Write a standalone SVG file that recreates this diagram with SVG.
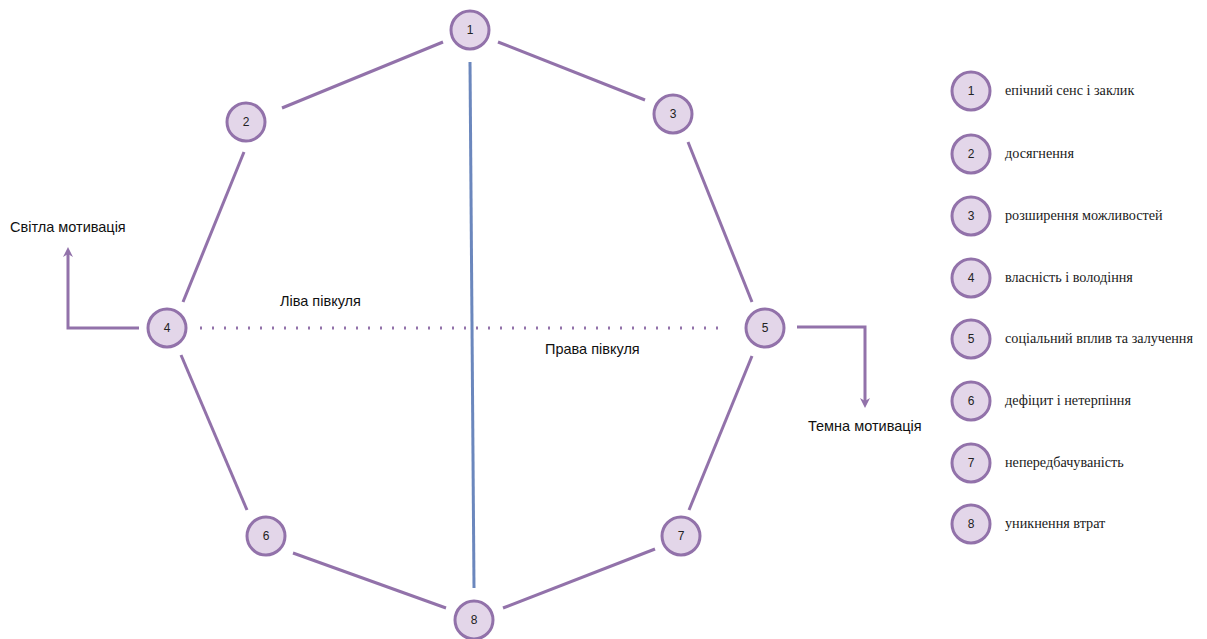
<svg xmlns="http://www.w3.org/2000/svg" width="1207" height="639" viewBox="0 0 1207 639">
<style>
.edge{stroke:#9272aa;stroke-width:3;fill:none;stroke-linecap:butt}
.node circle{fill:#e3d6e9;stroke:#9272aa;stroke-width:3}
.num{font-family:"Liberation Sans",Arial,sans-serif;font-size:12px;fill:#222;text-anchor:middle;dominant-baseline:central}
.lab{font-family:"Liberation Sans",Arial,sans-serif;font-size:14.5px;fill:#111}
.leg{font-family:"Liberation Serif","Times New Roman",serif;font-size:14.2px;fill:#1a1a1a}
</style>
<defs>
<marker id="ah" markerWidth="10" markerHeight="10" refX="5" refY="5" orient="auto" markerUnits="userSpaceOnUse">
<path d="M0,0 L10,5 L0,10 L3,5 Z" fill="#9272aa"/>
</marker>
</defs>
<rect width="1207" height="639" fill="#ffffff"/>
<g id="connectors">
<line class="edge" x1="443" y1="42" x2="282" y2="108"/>
<line class="edge" x1="498" y1="42" x2="645" y2="100"/>
<line class="edge" x1="244" y1="152" x2="183" y2="302"/>
<line class="edge" x1="688" y1="142" x2="752" y2="302"/>
<line class="edge" x1="181" y1="355" x2="247" y2="510"/>
<line class="edge" x1="752" y1="356" x2="689" y2="510"/>
<line class="edge" x1="293" y1="553" x2="446" y2="608"/>
<line class="edge" x1="655" y1="549" x2="503" y2="608"/>
<line x1="470" y1="62" x2="474" y2="588" stroke="#6b87bd" stroke-width="3"/>
<line x1="200" y1="328" x2="725" y2="328" stroke="#9272aa" stroke-width="3" stroke-dasharray="2,10"/>
<polyline class="edge" points="139,328 68,328 68,252" marker-end="url(#ah)"/>
<polyline class="edge" points="797,327 865,327 865,403" marker-end="url(#ah)"/>
</g>
<g id="n1" class="node"><circle cx="470" cy="30" r="19"/><text class="num" x="470" y="30">1</text></g>
<g id="n2" class="node"><circle cx="246" cy="122" r="19"/><text class="num" x="246" y="122">2</text></g>
<g id="n3" class="node"><circle cx="673" cy="114" r="19"/><text class="num" x="673" y="114">3</text></g>
<g id="n4" class="node"><circle cx="167" cy="328" r="19"/><text class="num" x="167" y="328">4</text></g>
<g id="n5" class="node"><circle cx="765" cy="328" r="19"/><text class="num" x="765" y="328">5</text></g>
<g id="n6" class="node"><circle cx="266" cy="536" r="19"/><text class="num" x="266" y="536">6</text></g>
<g id="n7" class="node"><circle cx="681" cy="536" r="19"/><text class="num" x="681" y="536">7</text></g>
<g id="n8" class="node"><circle cx="474" cy="620" r="19"/><text class="num" x="474" y="620">8</text></g>
<g id="labels">
<text class="lab" x="10" y="232">Світла мотивація</text>
<text class="lab" x="808" y="431">Темна мотивація</text>
<text class="lab" x="280" y="306">Ліва півкуля</text>
<text class="lab" x="545" y="354">Права півкуля</text>
</g>
<g id="legend">
<g id="l1" class="node"><circle cx="971" cy="91" r="19"/><text class="num" x="971" y="91">1</text><text class="leg" x="1005" y="95">епічний сенс і заклик</text></g>
<g id="l2" class="node"><circle cx="971" cy="154" r="19"/><text class="num" x="971" y="154">2</text><text class="leg" x="1005" y="158">досягнення</text></g>
<g id="l3" class="node"><circle cx="971" cy="216" r="19"/><text class="num" x="971" y="216">3</text><text class="leg" x="1005" y="220">розширення можливостей</text></g>
<g id="l4" class="node"><circle cx="971" cy="278" r="19"/><text class="num" x="971" y="278">4</text><text class="leg" x="1005" y="282">власність і володіння</text></g>
<g id="l5" class="node"><circle cx="971" cy="339" r="19"/><text class="num" x="971" y="339">5</text><text class="leg" x="1005" y="343">соціальний вплив та залучення</text></g>
<g id="l6" class="node"><circle cx="971" cy="401" r="19"/><text class="num" x="971" y="401">6</text><text class="leg" x="1005" y="405">дефіцит і нетерпіння</text></g>
<g id="l7" class="node"><circle cx="971" cy="463" r="19"/><text class="num" x="971" y="463">7</text><text class="leg" x="1005" y="467">непередбачуваність</text></g>
<g id="l8" class="node"><circle cx="971" cy="524" r="19"/><text class="num" x="971" y="524">8</text><text class="leg" x="1005" y="528">уникнення втрат</text></g>
</g>
</svg>
